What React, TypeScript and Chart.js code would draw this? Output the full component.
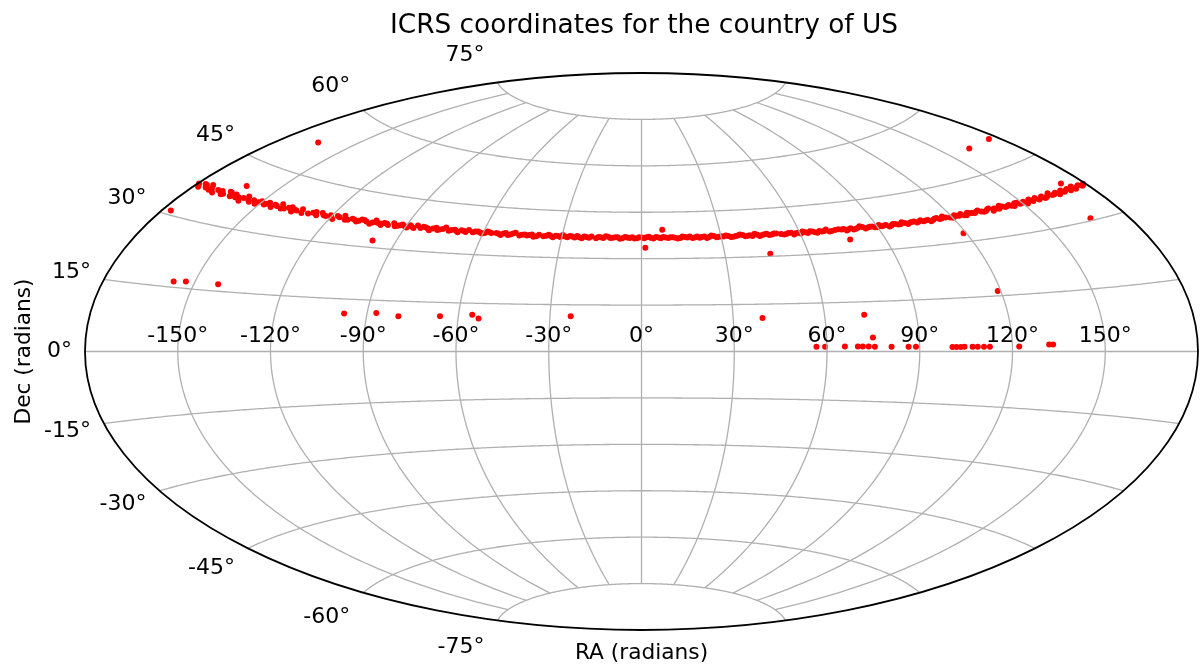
import React, { useEffect, useRef } from "react";
import { Chart, registerables } from "chart.js";

Chart.register(...registerables);

const TITLE = "ICRS coordinates for the country of US";
const X_LABEL = "RA (radians)";
const Y_LABEL = "Dec (radians)";

const lonTicks = [-150, -120, -90, -60, -30, 0, 30, 60, 90, 120, 150];
const latTicks = [-75, -60, -45, -30, -15, 0, 15, 30, 45, 60, 75];

// Dense band of sources (RA, Dec in degrees)
const bandRa = [
  -179.6, -178.3, -177.1, -175.4, -174.2, -172.9, -171.0, -168.2, -166.8, -165.1,
  -163.4, -161.9, -160.0, -158.6, -156.7, -155.3, -153.4, -151.8, -150.2, -148.3,
  -146.9, -145.0, -143.2, -141.7, -139.8, -138.3, -136.1, -134.6, -132.8, -129.4,
  -127.8, -125.9, -124.3, -122.2, -120.6, -118.9, -116.8, -115.2, -113.1, -111.6,
  -109.5, -107.9, -105.8, -104.1, -102.4, -100.3, -98.8, -96.9, -95.1, -93.2,
  -91.6, -89.5, -87.9, -85.8, -84.2, -82.3, -80.6, -78.4, -76.9, -74.8,
  -73.2, -71.1, -69.6, -67.5, -65.8, -64.0, -62.1, -60.4, -58.5, -56.9,
  -55.0, -53.2, -51.5, -49.6, -47.8, -46.1, -44.2, -42.4, -40.7, -38.8,
  -37.0, -35.1, -33.4, -31.5, -29.8, -27.9, -26.2, -24.3, -22.5, -20.8,
  -18.9, -17.1, -15.4, -13.5, -11.7, -9.9, -8.1, -6.2, -4.5, -2.6,
  -0.9, 1.0, 2.8, 4.5, 6.4, 8.2, 10.1, 11.8, 13.7, 15.5,
  17.3, 19.2, 21.0, 22.7, 24.6, 26.4, 28.3, 30.0, 31.9, 33.7,
  35.6, 37.3, 39.2, 41.0, 42.9, 44.6, 46.5, 48.3, 50.2, 53.9,
  55.7, 57.6, 59.3, 61.2, 63.0, 64.9, 66.6, 68.5, 70.3, 72.2,
  76.1, 77.9, 79.8, 81.6, 83.5, 85.3, 87.2, 89.0, 90.9, 92.7,
  94.6, 96.4, 98.3, 100.1, 102.0, 103.8, 105.7, 107.5, 109.4, 111.2,
  113.1, 114.9, 116.6, 120.3, 122.2, 124.0, 125.9, 127.7, 129.6, 131.4,
  133.3, 135.1, 137.0, 138.8, 140.7, 142.5, 144.4, 146.2, 148.1, 149.9,
  151.8, 153.6, 155.5, 157.3, 159.2, 161.0, 162.9, 164.7, 166.6, 168.4,
  170.3, 172.1, 173.8, 175.2, 176.7, 177.9, 179.1,
];
const bandDec = [
  37.2, 36.6, 37.5, 36.9, 37.8, 37.1, 36.4, 37.3, 36.8, 37.6,
  36.7, 37.4, 37.0, 36.3, 37.7, 36.9, 37.2, 36.5, 37.4, 36.8,
  37.5, 36.6, 37.1, 37.8, 36.9, 37.3, 36.5, 37.0, 37.6, 36.8,
  37.2, 36.7, 37.5, 36.9, 37.3, 36.4, 37.1, 37.7, 36.8, 37.2,
  36.6, 37.4, 37.0, 36.5, 37.6, 36.9, 37.2, 36.7, 37.4, 36.8,
  37.3, 36.6, 37.0, 37.5, 36.8, 37.1, 36.4, 37.3, 36.9, 37.6,
  36.7, 37.2, 36.5, 37.0, 37.4, 36.8, 37.1, 36.6, 37.3, 36.9,
  37.0, 36.5, 37.2, 36.8, 37.4, 36.6, 37.0, 36.9, 36.4, 37.1,
  36.7, 37.2, 36.5, 36.9, 37.3, 36.6, 36.9, 37.1, 36.4, 36.8,
  37.0, 36.5, 36.8, 37.2, 36.6, 36.9, 36.4, 37.0, 36.7, 36.5,
  36.9, 36.6, 37.1, 36.5, 36.8, 37.0, 36.6, 36.9, 36.4, 37.1,
  36.7, 36.5, 37.0, 36.8, 36.4, 37.2, 36.6, 36.9, 37.1, 36.5,
  36.8, 37.2, 36.6, 36.9, 37.3, 36.5, 37.0, 36.7, 37.1, 36.6,
  37.0, 36.4, 36.9, 37.2, 36.6, 37.0, 36.5, 36.8, 37.3, 36.7,
  36.9, 36.5, 37.1, 36.8, 37.4, 36.6, 37.0, 36.7, 37.2, 36.9,
  36.5, 37.1, 36.8, 37.3, 36.6, 37.0, 36.7, 37.2, 36.9, 36.5,
  37.1, 36.8, 37.4, 36.6, 37.0, 37.3, 36.7, 37.1, 36.9, 37.4,
  36.8, 37.2, 36.6, 37.0, 37.5, 36.9, 37.2, 36.7, 37.3, 37.0,
  36.6, 37.4, 37.1, 36.8, 37.3, 36.9, 37.6, 37.0, 36.7, 37.4,
  37.1, 36.8, 37.5, 37.0, 37.3, 36.9, 37.2,
];

// Further band sources filling the gaps between the ones above
const band2Ra = [
  -178.9, -176.2, -173.5, -170.1, -167.4, -164.3, -161.2, -157.9, -154.6, -151.0,
  -147.6, -144.1, -140.9, -137.2, -135.4, -131.9, -126.9, -123.2, -119.8, -117.9,
  -114.2, -110.6, -108.7, -106.9, -103.2, -101.4, -99.6, -97.8, -94.1, -92.4,
  -90.5, -88.6, -86.8, -83.3, -81.4, -79.5, -77.6, -75.7, -72.4, -70.3,
  -68.5, -66.7, -63.1, -61.2, -59.4, -57.7, -54.1, -52.3, -50.5, -48.7,
  -45.2, -43.3, -41.5, -39.7, -36.0, -34.2, -32.4, -30.6, -28.8, -27.0,
  -25.2, -23.4, -21.6, -19.8, -16.2, -14.4, -12.6, -10.8, -9.0, -7.2,
  -5.4, -3.5, -1.7, 0.2, 1.9, 3.7, 5.5, 7.3, 9.1, 10.9,
  12.7, 14.6, 16.4, 18.2, 20.1, 21.9, 23.7, 25.5, 27.3, 29.1,
  30.9, 32.8, 34.6, 36.4, 38.2, 40.1, 41.9, 43.8, 45.6, 47.4,
  49.3, 51.1, 52.8, 54.8, 56.7, 58.5, 60.3, 62.1, 64.0, 65.8,
  67.6, 69.4, 71.3, 73.6, 75.0, 77.0, 78.8, 80.7, 82.6, 84.4,
  86.3, 88.1, 89.9, 91.8, 93.6, 95.5, 97.3, 99.2, 101.1, 102.9,
  104.8, 106.6, 108.4, 110.3, 112.2, 114.0, 115.8, 117.5, 119.2, 121.3,
  123.1, 125.0, 126.8, 128.6, 130.5, 132.4, 134.2, 136.0, 137.9, 139.7,
  141.6, 143.4, 145.3, 147.1, 149.0, 150.8, 152.7, 154.6, 156.4, 158.2,
  160.1, 161.9, 163.8, 165.6, 167.5, 169.3, 171.2, 173.0, 174.5, 178.5,
];
const band2Dec = [
  36.9, 37.4, 36.7, 37.2, 36.6, 37.5, 36.8, 37.1, 36.6, 37.0,
  37.1, 37.3, 36.7, 37.6, 37.1, 36.6, 37.5, 37.0, 36.8, 37.4,
  36.7, 37.0, 36.9, 37.3, 36.9, 37.0, 36.5, 37.1, 36.6, 37.0,
  36.9, 37.3, 36.6, 37.3, 36.9, 37.0, 36.7, 37.1, 37.0, 36.8,
  37.2, 36.7, 37.1, 36.9, 36.8, 37.1, 36.8, 37.0, 36.6, 37.1,
  36.9, 36.7, 37.1, 36.6, 36.9, 36.8, 37.0, 36.6, 36.8, 37.0,
  36.6, 36.7, 37.0, 36.6, 36.9, 36.6, 37.0, 36.7, 36.9, 36.6,
  36.8, 36.9, 36.6, 36.8, 36.9, 36.7, 37.0, 36.6, 36.8, 36.9,
  36.7, 36.6, 36.9, 37.0, 36.7, 36.6, 36.9, 36.7, 37.0, 36.7,
  36.8, 36.9, 36.6, 36.9, 37.0, 36.7, 36.6, 36.9, 36.8, 37.1,
  36.8, 37.0, 36.8, 36.7, 37.0, 36.8, 36.6, 36.9, 37.1, 36.7,
  37.0, 36.9, 36.6, 36.9, 37.1, 37.0, 36.8, 36.6, 37.0, 37.1,
  36.8, 37.0, 36.6, 36.8, 37.0, 36.7, 37.0, 36.8, 37.0, 36.9,
  37.1, 36.9, 36.8, 37.0, 36.8, 37.2, 36.9, 37.0, 36.8, 37.2,
  36.9, 36.8, 37.3, 37.0, 37.2, 37.0, 36.9, 37.4, 37.1, 36.8,
  37.2, 37.0, 36.9, 37.3, 36.9, 37.2, 37.0, 36.8, 37.4, 37.0,
  36.8, 37.2, 37.0, 37.3, 37.1, 36.9, 37.3, 37.1, 36.8, 37.0,
];

// Scattered sources away from the band
const outlierRa = [
  -165, -177, -162.5, -157, -153, -142, -98.5, -97.5, -87, -79.6,
  -66, -55.5, -53.3, -23.2, 1.4, 8.0, 39.6, 46.3, 73, 75,
  77.2, 119, 119, 162, 176, 172, 167,
];
const outlierDec = [
  52, 30.9, 39.6, 16.3, 16.6, 16.7, 32, 10.9, 11.3, 10.5,
  10.8, 11.4, 10.3, 11.3, 33.5, 39.3, 10.6, 30.8, 11.1, 4.2,
  33.8, 16.3, 32.3, 50.7, 50.7, 38.6, 30.5,
];

// Sources just above the celestial equator
const equatorRa = [
  56.6, 59.4, 65.8, 70.0, 71.6, 73.5, 75.5, 80.9, 86.4, 88.8,
  100.6, 101.9, 103.3, 104.5, 107.1, 108.8, 110.8, 112.7, 122.2, 131.9, 133.2,
];
const equatorDec = [
  1.5, 1.5, 1.5, 1.5, 1.5, 1.5, 1.4, 1.4, 1.4, 1.4,
  1.3, 1.3, 1.3, 1.3, 1.3, 1.3, 1.3, 1.3, 1.3, 1.8, 1.8,
];

const D2R = Math.PI / 180;

function aitoff(raDeg: number, decDeg: number) {
  const l = raDeg * D2R;
  const p = decDeg * D2R;
  const c = Math.max(-1, Math.min(1, Math.cos(p) * Math.cos(l / 2)));
  const alpha = Math.acos(c);
  const s = alpha < 1e-9 ? 1 : Math.sin(alpha) / alpha;
  return { x: (2 * Math.cos(p) * Math.sin(l / 2)) / s, y: Math.sin(p) / s };
}

function toPoints(ra: number[], dec: number[]) {
  return ra.map((r, i) => aitoff(r, dec[i]));
}

const FONT = "'DejaVu Sans', 'Liberation Sans', sans-serif";

const geoPlugin = {
  id: "geoGrid",
  afterDatasetsDraw(chart: any) {
    const ctx: CanvasRenderingContext2D = chart.ctx;
    const xs = chart.scales.x;
    const ys = chart.scales.y;
    const P = (ra: number, dec: number) => {
      const q = aitoff(ra, dec);
      return [xs.getPixelForValue(q.x), ys.getPixelForValue(q.y)];
    };
    ctx.save();
    // grid
    ctx.strokeStyle = "#b0b0b0";
    ctx.lineWidth = 1.3;
    for (const lat of latTicks) {
      ctx.beginPath();
      for (let ra = -180; ra <= 180; ra += 1) {
        const [px, py] = P(ra, lat);
        if (ra === -180) ctx.moveTo(px, py);
        else ctx.lineTo(px, py);
      }
      ctx.stroke();
    }
    for (const lon of lonTicks) {
      ctx.beginPath();
      for (let dec = -75; dec <= 75; dec += 1) {
        const [px, py] = P(lon, dec);
        if (dec === -75) ctx.moveTo(px, py);
        else ctx.lineTo(px, py);
      }
      ctx.stroke();
    }
    // boundary
    const cx = xs.getPixelForValue(0);
    const cy = ys.getPixelForValue(0);
    const rx = xs.getPixelForValue(Math.PI) - cx;
    const ry = cy - ys.getPixelForValue(Math.PI / 2);
    ctx.strokeStyle = "#000";
    ctx.lineWidth = 1.8;
    ctx.beginPath();
    ctx.ellipse(cx, cy, rx, ry, 0, 0, Math.PI * 2);
    ctx.stroke();

    // tick labels
    ctx.fillStyle = "#000";
    ctx.font = `22px ${FONT}`;
    ctx.textAlign = "center";
    ctx.textBaseline = "alphabetic";
    for (const lon of lonTicks) {
      const [px] = P(lon, 0);
      ctx.fillText(`${lon}°`, px, cy - 10);
    }
    ctx.textAlign = "right";
    ctx.textBaseline = "middle";
    for (const lat of latTicks) {
      const q = aitoff(-180, lat);
      const px = xs.getPixelForValue(q.x) - 13;
      const py = ys.getPixelForValue(q.y * 1.1);
      ctx.fillText(`${lat}°`, px, py);
    }

    // title and axis labels
    ctx.textAlign = "center";
    ctx.textBaseline = "alphabetic";
    ctx.font = `26.4px ${FONT}`;
    ctx.fillText(TITLE, 644, 33);
    ctx.font = `21.7px ${FONT}`;
    ctx.fillText(X_LABEL, cx, 659);
    ctx.save();
    ctx.translate(24, cy);
    ctx.rotate(-Math.PI / 2);
    ctx.textBaseline = "middle";
    ctx.fillText(Y_LABEL, 0, 0);
    ctx.restore();
    ctx.restore();
  },
};

export default function App() {
  const ref = useRef<HTMLCanvasElement | null>(null);
  useEffect(() => {
    if (!ref.current) return;
    const style = {
      backgroundColor: "#ff0000",
      borderWidth: 0,
      pointRadius: 3,
      pointHoverRadius: 3,
      clip: false as const,
    };
    const chart = new Chart(ref.current, {
      type: "scatter",
      data: {
        datasets: [
          { label: "band", data: toPoints(bandRa, bandDec), ...style },
          { label: "band2", data: toPoints(band2Ra, band2Dec), ...style },
          { label: "outliers", data: toPoints(outlierRa, outlierDec), ...style },
          { label: "equator", data: toPoints(equatorRa, equatorDec), ...style },
        ],
      },
      options: {
        responsive: false,
        animation: false,
        events: [],
        layout: { padding: { left: 85, right: 2, top: 73, bottom: 37 } },
        plugins: { legend: { display: false }, tooltip: { enabled: false }, title: { display: false } },
        scales: {
          x: { type: "linear", min: -Math.PI, max: Math.PI, display: false },
          y: { type: "linear", min: -Math.PI / 2, max: Math.PI / 2, display: false },
        },
      },
      plugins: [geoPlugin],
    });
    return () => chart.destroy();
  }, []);
  return (
    <div style={{ position: "fixed", left: 0, top: 0, width: 1201, height: 667, background: "#fff" }}>
      <canvas ref={ref} width={1201} height={667} />
    </div>
  );
}
